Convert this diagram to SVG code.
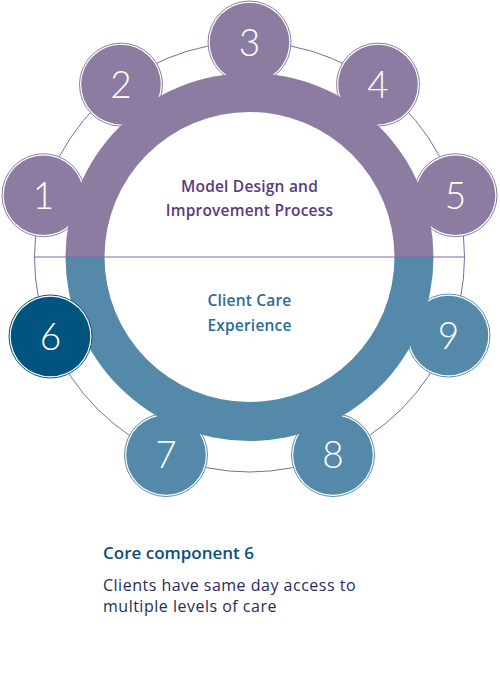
<svg xmlns="http://www.w3.org/2000/svg" width="500" height="700" viewBox="0 0 500 700">
<style>
.ring{fill:none;stroke:#7d6b9c;stroke-width:1}
.op{fill:#fff;stroke:#8c7ca2;stroke-width:1}
.ob{fill:#fff;stroke:#5a8fb0;stroke-width:1}
.od{fill:#fff;stroke:#00547f;stroke-width:1}
.fp{fill:#8c7ca2}
.fb{fill:#5589aa}
.fd{fill:#00547f}
.num{font-family:Lato,"Open Sans",sans-serif;font-weight:300;font-size:37px;fill:#fff;text-anchor:middle}
.hp{font-family:"Open Sans",Lato,sans-serif;font-weight:600;font-size:15.5px;letter-spacing:0.2px;fill:#573b7c;text-anchor:middle}
.hb{font-family:"Open Sans",Lato,sans-serif;font-weight:600;font-size:15.5px;letter-spacing:0.2px;fill:#2a6c95;text-anchor:middle}
.t1{font-family:"Open Sans",Lato,sans-serif;font-weight:600;font-size:17px;fill:#0b4f7c}
.t2{font-family:"Open Sans",Lato,sans-serif;font-weight:400;font-size:16px;letter-spacing:0.5px;fill:#2b2a5c}
</style>
<circle class="ring" cx="249.5" cy="257" r="215"/>
<g id="node1"><circle class="op" cx="43.5" cy="195.2" r="41.5"/><circle class="fp" cx="43.5" cy="195.2" r="39.8"/><text class="num" x="43.5" y="208.5">1</text></g>
<g id="node2"><circle class="op" cx="121" cy="84.6" r="41.5"/><circle class="fp" cx="121" cy="84.6" r="39.8"/><text class="num" x="121" y="98">2</text></g>
<g id="node3"><circle class="op" cx="249.5" cy="42.5" r="41.5"/><circle class="fp" cx="249.5" cy="42.5" r="39.8"/><text class="num" x="249.5" y="56">3</text></g>
<g id="node4"><circle class="op" cx="378" cy="84.6" r="41.5"/><circle class="fp" cx="378" cy="84.6" r="39.8"/><text class="num" x="378" y="98">4</text></g>
<g id="node5"><circle class="op" cx="455.5" cy="195.2" r="41.5"/><circle class="fp" cx="455.5" cy="195.2" r="39.8"/><text class="num" x="455.5" y="208.5">5</text></g>
<g id="node7"><circle class="ob" cx="166" cy="455" r="41.5"/><circle class="fb" cx="166" cy="455" r="39.8"/><text class="num" x="166" y="468">7</text></g>
<g id="node8"><circle class="ob" cx="333" cy="455" r="41.5"/><circle class="fb" cx="333" cy="455" r="39.8"/><text class="num" x="333" y="468">8</text></g>
<g id="node9"><circle class="ob" cx="448.5" cy="335.5" r="41.5"/><circle class="fb" cx="448.5" cy="335.5" r="39.8"/><text class="num" x="448.5" y="349">9</text></g>
<g id="band">
<path class="fp" d="M65.5 257 A184 184 0 0 1 433.5 257 L394.5 257 A145 145 0 0 0 104.5 257 Z"/>
<path class="fb" d="M65.5 257 A184 184 0 0 0 433.5 257 L394.5 257 A145 145 0 0 1 104.5 257 Z"/>
</g>
<g id="connectors">
<line x1="34.5" y1="257" x2="464.5" y2="257" stroke="#7d6b9c" stroke-width="1"/>
</g>
<g id="node6"><circle class="od" cx="50.5" cy="336.5" r="41.5"/><circle class="fd" cx="50.5" cy="336.5" r="39.8"/><text class="num" x="50.5" y="349.5">6</text></g>
<g id="centre-top"><text class="hp" x="249.5" y="192">Model Design and</text><text class="hp" x="249.5" y="216">Improvement Process</text></g>
<g id="centre-bottom"><text class="hb" x="249.5" y="305.5">Client Care</text><text class="hb" x="249.5" y="330.5">Experience</text></g>
<g id="caption">
<text class="t1" x="103" y="559">Core component 6</text>
<text class="t2" x="103" y="590.5">Clients have same day access to</text>
<text class="t2" x="103" y="611.5">multiple levels of care</text>
</g>
</svg>
